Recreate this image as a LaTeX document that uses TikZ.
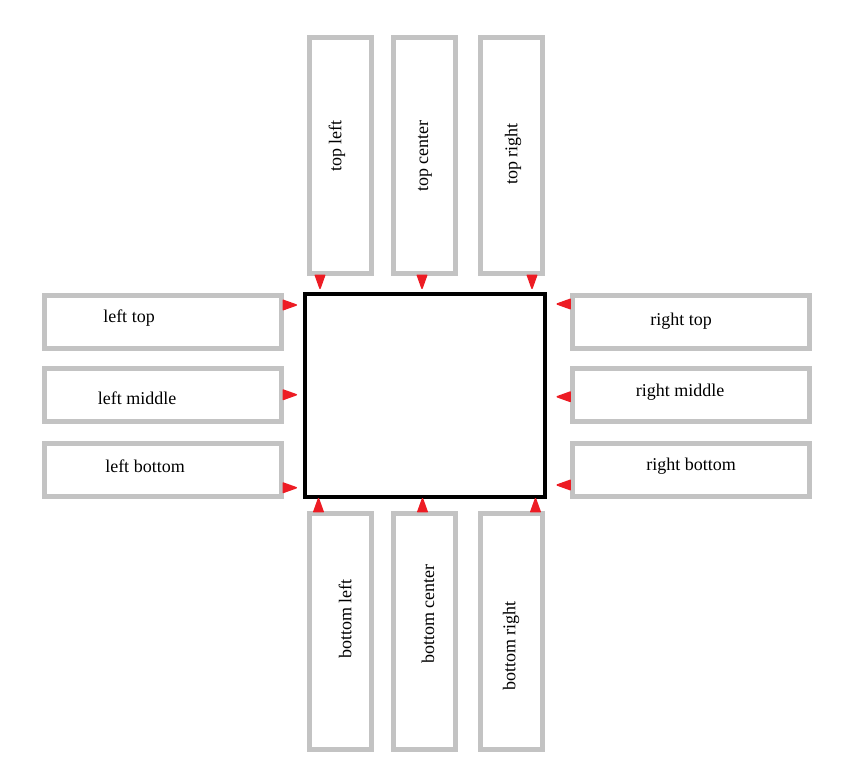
\documentclass[tikz,border=0pt]{standalone}
\usepackage{fontspec}
\setmainfont{Liberation Serif}
\usetikzlibrary{
  arrows.meta,
  positioning,  % Function "of"
}
\definecolor{boxgray}{HTML}{C3C3C3}
\definecolor{pinred}{HTML}{ED1C24}
\tikzset{
  font=\fontsize{18}{21}\selectfont,
  main box/.style={
    draw=black,
    line width=4pt,
    minimum width=240pt,
    minimum height=203pt,
    inner sep=0pt,
    rectangle
  },
  side box/.style={
    draw=boxgray,
    line width=5pt,
    inner sep=0pt,
    rectangle
  },
  wide box/.style={
    side box,
    minimum width=237pt,
    minimum height=52.5pt
  },
  tall box/.style={
    side box,
    minimum width=62pt,
    minimum height=236pt
  },
  txt/.style={
    inner sep=0pt
  },
  up txt/.style={
    txt,
    rotate=90
  },
  pin/.style={
    draw=pinred,
    line width=1.5pt,
    -{Triangle[length=16pt 0,width=11pt 0,round,fill=pinred]}
  }
}
\begin{document}
\begin{tikzpicture}[x=1pt,y=-1pt]
\useasboundingbox (0,0) rectangle (853,776);
\node[main box] (main) at (425,395.5) {};
% boxes round the main box
\node[tall box] (tl) at (340.5,155.5) {};
\node[tall box] (tc) at (424.5,155.5) {};
\node[tall box] (tr) at (511.5,155.5) {};
\node[tall box] (bl) at (340.5,631.5) {};
\node[tall box] (bc) at (424.5,631.5) {};
\node[tall box] (br) at (511.5,631.5) {};
\node[wide box] (lt) at (163,322) {};
\node[wide box] (lm) at (163,394.75) {};
\node[wide box] (lb) at (163,469.75) {};
\node[wide box] (rt) at (690.75,321.75) {};
\node[wide box] (rm) at (690.75,394.75) {};
\node[wide box] (rb) at (690.75,470) {};
% texts
\node[up txt] (tl-t) at (337,146) {top left};
\node[up txt] (tc-t) at (425,156) {top center};
\node[up txt] (tr-t) at (513,154) {top right};
\node[up txt] (bl-t) at (345,619) {bottom left};
\node[up txt] (bc-t) at (428,614) {bottom center};
\node[up txt] (br-t) at (511,646) {bottom right};
\node[txt] (lt-t) at (129,318) {left top};
\node[txt] (lm-t) at (137,398) {left middle};
\node[txt] (lb-t) at (145,466) {left bottom};
\node[txt] (rt-t) at (681,321) {right top};
\node[txt] (rm-t) at (680,392) {right middle};
\node[txt] (rb-t) at (691,466) {right bottom};
% pins
\draw[pin,shorten >=3pt] ([xshift=-20.5pt]tl.south) -- ([xshift=-20.5pt]tl.south |- main.north);
\draw[pin,shorten >=3pt] ([xshift=-2.5pt]tc.south) -- ([xshift=-2.5pt]tc.south |- main.north);
\draw[pin,shorten >=3pt] ([xshift=20.5pt]tr.south) -- ([xshift=20.5pt]tr.south |- main.north);
\draw[pin,shorten >=-1pt] ([xshift=-22pt]bl.north) -- ([xshift=-22pt]bl.north |- main.south);
\draw[pin,shorten >=-1pt] ([xshift=-2pt]bc.north) -- ([xshift=-2pt]bc.north |- main.south);
\draw[pin,shorten >=-1pt] ([xshift=24pt]br.north) -- ([xshift=24pt]br.north |- main.south);
\draw[pin,shorten >=6pt] ([yshift=17pt]lt.east) -- ([yshift=17pt]lt.east -| main.west);
\draw[pin,shorten >=6pt] ([yshift=0pt]lm.east) -- ([yshift=0pt]lm.east -| main.west);
\draw[pin,shorten >=6pt] ([yshift=-18pt]lb.east) -- ([yshift=-18pt]lb.east -| main.west);
\draw[pin,shorten >=9.5pt] ([yshift=17.75pt]rt.west) -- ([yshift=17.75pt]rt.west -| main.east);
\draw[pin,shorten >=9.5pt] ([yshift=-2pt]rm.west) -- ([yshift=-2pt]rm.west -| main.east);
\draw[pin,shorten >=9.5pt] ([yshift=-15pt]rb.west) -- ([yshift=-15pt]rb.west -| main.east);
\end{tikzpicture}
\end{document}
